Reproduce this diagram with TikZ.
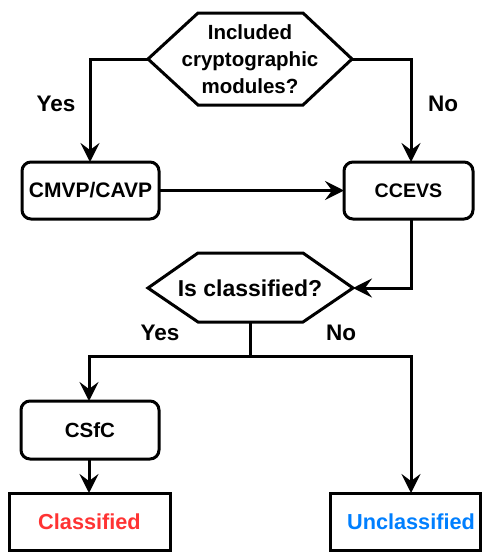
\documentclass[tikz,border=0pt]{standalone}
\usepackage{fontspec}
\setmainfont{Liberation Sans}
\usetikzlibrary{arrows.meta}
\definecolor{cred}{HTML}{FF3333}
\definecolor{cblue}{HTML}{007FFF}
\tikzset{
  line/.style={line width=3pt, line join=miter},
  arr/.style={line, -{Stealth[length=19pt, width=19pt, inset=7pt]}},
  txt/.style={font=\bfseries\fontsize{20.5}{27}\selectfont, align=center, inner sep=0pt},
  rbox/.style={line, rounded corners=9pt},
  sbox/.style={line},
}
\begin{document}
\begin{tikzpicture}[x=1pt, y=-1pt]
\useasboundingbox (0,0) rectangle (482,552);
% top hexagon
\draw[line] (198,13) -- (303,13) -- (352,59) -- (303,105) -- (198,105) -- (148,59) -- cycle;
\node[txt] (q1) at (250,59) {Included\\cryptographic\\modules?};
\coordinate (q1l) at (148,59);
\coordinate (q1r) at (352,59);
% boxes
\draw[rbox] (22,162) rectangle (159,219);
\node[txt, font=\bfseries\fontsize{21}{27}\selectfont] (cmvp) at (90.5,190.5) {CMVP/CAVP};
\coordinate (cmvpt) at (90,162);
\coordinate (cmvpr) at (159,190.5);
\draw[rbox] (344,162) rectangle (473,219);
\node[txt, font=\bfseries\fontsize{19.6}{27}\selectfont] (ccevs) at (408.5,190.5) {CCEVS};
\coordinate (ccevst) at (411,162);
\coordinate (ccevsl) at (344,190.5);
\coordinate (ccevsb) at (411,219);
% labels
\node[txt, font=\bfseries\fontsize{22.5}{27}\selectfont] (yes1) at (56,104) {Yes};
\node[txt, font=\bfseries\fontsize{22.5}{27}\selectfont] (no1) at (443,104) {No};
% connectors top
\draw[arr] (q1l) -| (cmvpt);
\draw[arr] (q1r) -| (ccevst);
\draw[arr] (cmvpr) -- (ccevsl);
% second hexagon
\draw[line] (198,253) -- (303,253) -- (353,288) -- (303,322) -- (198,322) -- (148,288) -- cycle;
\node[txt, font=\bfseries\fontsize{23}{27}\selectfont] (q2) at (250,288) {Is classified?};
\coordinate (q2r) at (353,288);
\coordinate (q2b) at (250,322);
\draw[arr] (ccevsb) |- (q2r);
\coordinate (split) at (250,356);
\node[txt, font=\bfseries\fontsize{22.5}{27}\selectfont] (yes2) at (160,333) {Yes};
\node[txt, font=\bfseries\fontsize{22.5}{27}\selectfont] (no2) at (341,333) {No};
% CSfC
\draw[rbox] (21,401) rectangle (159,459);
\node[txt] (csfc) at (90,430) {CSfC};
\coordinate (csfct) at (89,401);
\coordinate (csfcb) at (89,459);
% results
\draw[sbox] (9,493) rectangle (170,550);
\node[txt, text=cred, font=\bfseries\fontsize{21.7}{27}\selectfont] (cls) at (89.5,521.5) {Classified};
\coordinate (clst) at (89,493);
\draw[sbox] (330,493) rectangle (480.5,550);
\node[txt, text=cblue, font=\bfseries\fontsize{21.7}{27}\selectfont] (ucls) at (411,521.5) {Unclassified};
\coordinate (uclst) at (411,493);
% connectors bottom
\draw[line] (q2b) -- (split);
\draw[arr] (split) -| (csfct);
\draw[arr] (split) -| (uclst);
\draw[arr] (csfcb) -- (clst);
\end{tikzpicture}
\end{document}
